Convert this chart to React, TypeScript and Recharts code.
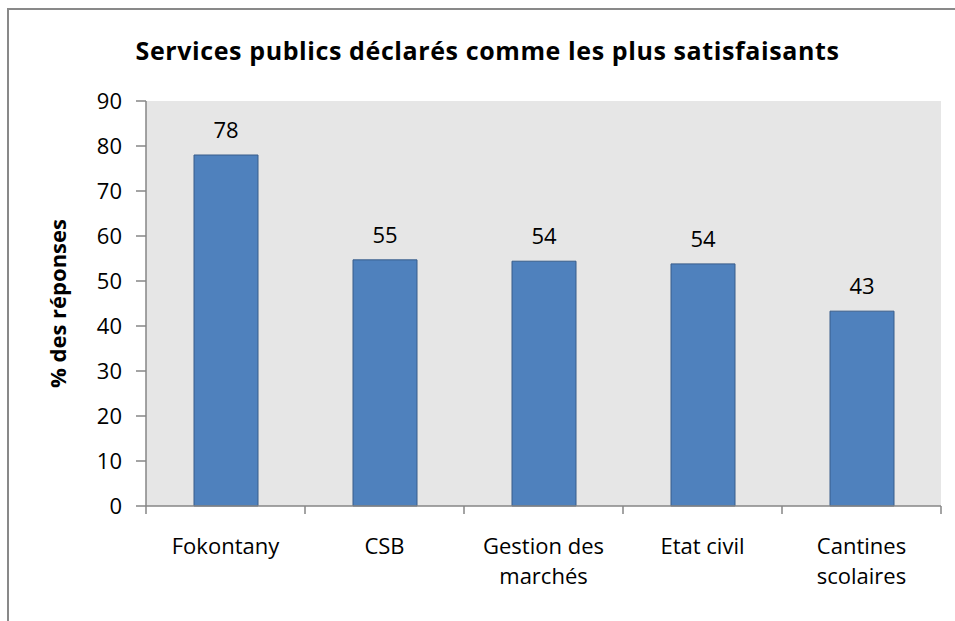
import React from "react";
import {
  BarChart,
  Bar,
  XAxis,
  YAxis,
  CartesianGrid,
  LabelList,
} from "recharts";

const categories = [
  "Fokontany",
  "CSB",
  "Gestion des\nmarchés",
  "Etat civil",
  "Cantines\nscolaires",
];
const values = [78.0, 54.7, 54.4, 53.8, 43.3];
const yTicks = [0, 10, 20, 30, 40, 50, 60, 70, 80, 90];

const data = categories.map((name, i) => ({ name, value: values[i] }));

const axisGray = "#868686";
const font = "'Open Sans', Lato, sans-serif";

// label + Excel-style tick marks on the category boundaries
function CatTick(props: any) {
  const { x, y, payload, index, visibleTicksCount } = props;
  const half = payload.offset || 0;
  const lines = String(payload.value).split("\n");
  const last = index === (visibleTicksCount ?? categories.length) - 1;
  return (
    <g>
      <line x1={x - half} x2={x - half} y1={y} y2={y + 8} stroke={axisGray} strokeWidth={1.5} />
      {last && (
        <line x1={x + half} x2={x + half} y1={y} y2={y + 8} stroke={axisGray} strokeWidth={1.5} />
      )}
      <text x={x} y={y + 48} textAnchor="middle" fill="#000" fontSize={22} fontFamily={font}>
        {lines.map((line, i) => (
          <tspan key={i} x={x} dy={i === 0 ? 0 : 30}>
            {line}
          </tspan>
        ))}
      </text>
    </g>
  );
}

export default function App() {
  return (
    <div
      style={{
        position: "absolute",
        left: 0,
        top: 0,
        width: 955,
        height: 621,
        background: "#fff",
        fontFamily: font,
        overflow: "hidden",
      }}
    >
      <div
        style={{
          position: "absolute",
          left: 7,
          top: 8,
          width: 960,
          height: 620,
          borderLeft: `2px solid #898989`,
          borderTop: `2px solid #898989`,
        }}
      />
      <div
        style={{
          position: "absolute",
          left: 0,
          top: 38,
          width: 975,
          textAlign: "center",
          fontSize: 25,
          fontWeight: 700,
          letterSpacing: 0.6,
          lineHeight: "25px",
          color: "#000",
        }}
      >
        Services publics déclarés comme les plus satisfaisants
      </div>
      <BarChart
        width={955}
        height={621}
        data={data}
        margin={{ top: 101, right: 14, left: 30, bottom: 15 }}
        style={{ position: "absolute", left: 0, top: 0 }}
      >
        <CartesianGrid fill="#e6e6e6" horizontal={false} vertical={false} />
        <XAxis
          dataKey="name"
          axisLine={{ stroke: axisGray, strokeWidth: 1.5 }}
          tickLine={false}
          tickSize={0}
          tickMargin={0}
          interval={0}
          height={100}
          tick={<CatTick />}
        />
        <YAxis
          domain={[0, 90]}
          ticks={yTicks}
          interval={0}
          width={116}
          tickSize={10}
          tickMargin={14}
          axisLine={{ stroke: axisGray, strokeWidth: 1.5 }}
          tickLine={{ stroke: axisGray, strokeWidth: 1.5 }}
          tick={{ fill: "#000", fontSize: 22, fontFamily: font }}
          label={{
            value: "% des réponses",
            angle: -90,
            position: "insideLeft",
            offset: 28,
            style: {
              textAnchor: "middle",
              fontWeight: 700,
              fontSize: 22,
              fill: "#000",
              fontFamily: font,
            },
          }}
        />
        <Bar
          dataKey="value"
          barSize={64}
          fill="#4f81bd"
          stroke="#385d8a"
          strokeWidth={1}
          isAnimationActive={false}
        >
          <LabelList
            dataKey="value"
            position="top"
            offset={17}
            fill="#000"
            fontSize={22}
            fontFamily={font}
            formatter={(v: any) => Number(v).toFixed(0)}
          />
        </Bar>
      </BarChart>
    </div>
  );
}
